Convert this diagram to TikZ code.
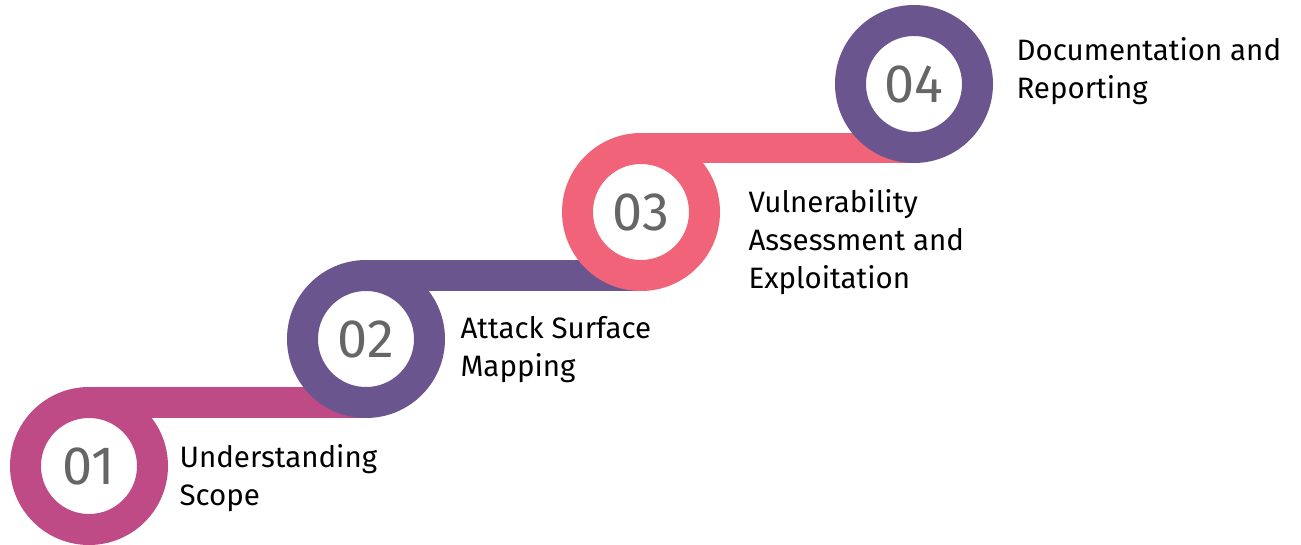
\documentclass[tikz,border=0pt]{standalone}
\usepackage{fontspec}
\setmainfont{Fira Sans}
\usetikzlibrary{backgrounds}
\definecolor{stepmagenta}{HTML}{BE4B86}
\definecolor{steppurple}{HTML}{6B558F}
\definecolor{stepcoral}{HTML}{F06378}
\definecolor{numgray}{HTML}{666666}
\tikzset{
  ring/.style={circle,draw,fill=white,line width=31pt,
               minimum size=127pt,inner sep=0pt,
               font=\fontsize{54}{54}\selectfont,text=numgray},
  band/.style={fill=#1,draw=none},
}

\begin{document}
\begin{tikzpicture}[
  x=1pt,y=-1pt,
  steptext/.style={anchor=base west,align=left,
                   font=\fontsize{29.5}{38}\selectfont,text=black}
]
  \useasboundingbox (0,0) rectangle (1301,544);

  \node[ring,draw=stepmagenta] (s1) at (89,466) {01};
  \node[ring,draw=steppurple]  (s2) at (366,339) {02};
  \node[ring,draw=stepcoral]   (s3) at (641,212) {03};
  \node[ring,draw=steppurple]  (s4) at (914,84) {04};

  \begin{scope}[on background layer]
    \fill[band=stepmagenta] (s1.north) rectangle (s2.south);
    \fill[band=steppurple]  (s2.north) rectangle (s3.south);
    \fill[band=stepcoral]   (s3.north) rectangle (s4.south);
  \end{scope}

  \node[steptext] (t1) at (176,505) {Understanding\\Scope};
  \node[steptext] (t2) at (457,376) {Attack Surface\\Mapping};
  \node[steptext] (t3) at (745,288) {Vulnerability\\Assessment and\\Exploitation};
  \node[steptext] (t4) at (1013,98) {Documentation and\\Reporting};
\end{tikzpicture}
\end{document}
